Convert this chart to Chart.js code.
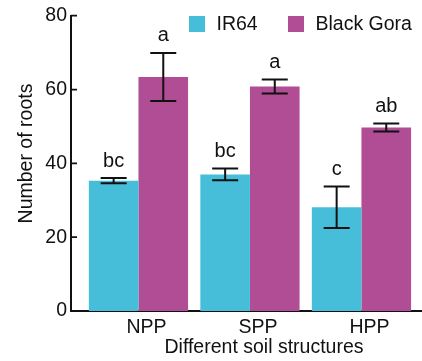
<!DOCTYPE html>
<html>
<head>
<meta charset="utf-8">
<script src="https://cdn.jsdelivr.net/npm/chart.js@4/dist/chart.umd.min.js"></script>
<style>
  html,body{margin:0;padding:0;background:#fff;}
  #wrap{width:422px;height:361px;}
</style>
</head>
<body>
<div id="wrap"><canvas id="ch" width="422" height="361"></canvas></div>
<script>
const categories = ['NPP','SPP','HPP'];
const ir64 = [35.3, 37.0, 28.1];
const ir64Err = [0.7, 1.6, 5.6];
const ir64Letters = ['bc','bc','c'];
const blackGora = [63.4, 60.8, 49.7];
const blackGoraErr = [6.5, 1.9, 1.1];
const blackGoraLetters = ['a','a','ab'];
const yTicks = [0, 20, 40, 60, 80];

const FONT = '"Liberation Sans", Arial, sans-serif';
const errs = [ir64Err, blackGoraErr];
const letters = [ir64Letters, blackGoraLetters];

const extras = {
  id:'extras',
  afterDatasetsDraw(chart){
    const {ctx} = chart;
    const y = chart.scales.y;
    ctx.save();
    chart.data.datasets.forEach((ds, i) => {
      const meta = chart.getDatasetMeta(i);
      meta.data.forEach((bar, j) => {
        const v = ds.data[j].y, e = errs[i][j];
        const top = y.getPixelForValue(v + e), bot = y.getPixelForValue(v - e);
        ctx.strokeStyle = '#111';
        ctx.lineWidth = 2;
        ctx.beginPath();
        ctx.moveTo(bar.x, top); ctx.lineTo(bar.x, bot);
        ctx.moveTo(bar.x - 13, top); ctx.lineTo(bar.x + 13, top);
        ctx.moveTo(bar.x - 13, bot); ctx.lineTo(bar.x + 13, bot);
        ctx.stroke();
        ctx.fillStyle = '#111';
        ctx.font = '20px ' + FONT;
        ctx.textAlign = 'center';
        ctx.textBaseline = 'alphabetic';
        ctx.fillText(letters[i][j], bar.x, top - 11.5);
      });
    });
    ctx.restore();
  },
  afterDraw(chart){
    const {ctx, chartArea} = chart;
    const y = chart.scales.y;
    ctx.save();
    // inward ticks on y axis
    ctx.strokeStyle = '#111';
    ctx.lineWidth = 1.7;
    ctx.beginPath();
    yTicks.forEach(t => {
      const py = y.getPixelForValue(t);
      ctx.moveTo(chartArea.left, py); ctx.lineTo(chartArea.left + 6, py);
    });
    ctx.stroke();

    // legend
    ctx.font = '19.5px ' + FONT;
    ctx.textBaseline = 'middle';
    ctx.textAlign = 'left';
    const legendX = [189, 288];
    chart.data.datasets.forEach((ds, i) => {
      ctx.fillStyle = ds.backgroundColor;
      ctx.fillRect(legendX[i], 16, 16, 16);
      ctx.fillStyle = '#111';
      ctx.fillText(ds.label, legendX[i] + 27.5, 25);
    });

    // axis titles
    ctx.textAlign = 'center';
    ctx.textBaseline = 'alphabetic';
    ctx.fillText('Different soil structures', 264, 353);
    ctx.translate(32, 153.5);
    ctx.rotate(-Math.PI / 2);
    ctx.fillText('Number of roots', 0, 0);
    ctx.restore();
  }
};

new Chart(document.getElementById('ch'), {
  type:'bar',
  data:{
    datasets:[
      { label:'IR64', data: ir64.map((v,i)=>({x:i, y:v})), backgroundColor:'#47BED9', borderWidth:0 },
      { label:'Black Gora', data: blackGora.map((v,i)=>({x:i, y:v})), backgroundColor:'#B04D94', borderWidth:0 }
    ]
  },
  options:{
    responsive:false,
    animation:false,
    categoryPercentage:0.89,
    barPercentage:1,
    layout:{ padding:{ top:13, right:0, left:0, bottom:0 } },
    plugins:{ legend:{display:false}, tooltip:{enabled:false} },
    scales:{
      x:{
        type:'linear',
        min:-0.605, max:2.543,
        offset:false,
        grid:{ display:false, drawTicks:false },
        border:{ display:true, color:'#111', width:2 },
        afterBuildTicks: s => { s.ticks = categories.map((_, i) => ({value:i})); },
        afterFit: s => { s.height = 50; },
        ticks:{
          autoSkip:false, maxRotation:0, labelOffset:8, padding:5,
          color:'#111', font:{ family:FONT, size:19.5 },
          callback: v => categories[v] ?? ''
        }
      },
      y:{
        min:0, max:80,
        grid:{ display:false, drawTicks:false },
        border:{ display:true, color:'#111', width:2 },
        afterBuildTicks: s => { s.ticks = yTicks.map(v => ({value:v})); },
        afterFit: s => { s.width = 71; },
        ticks:{ padding:4, color:'#111', font:{ family:FONT, size:19.5 } }
      }
    }
  },
  plugins:[extras]
});
</script>
</body>
</html>
